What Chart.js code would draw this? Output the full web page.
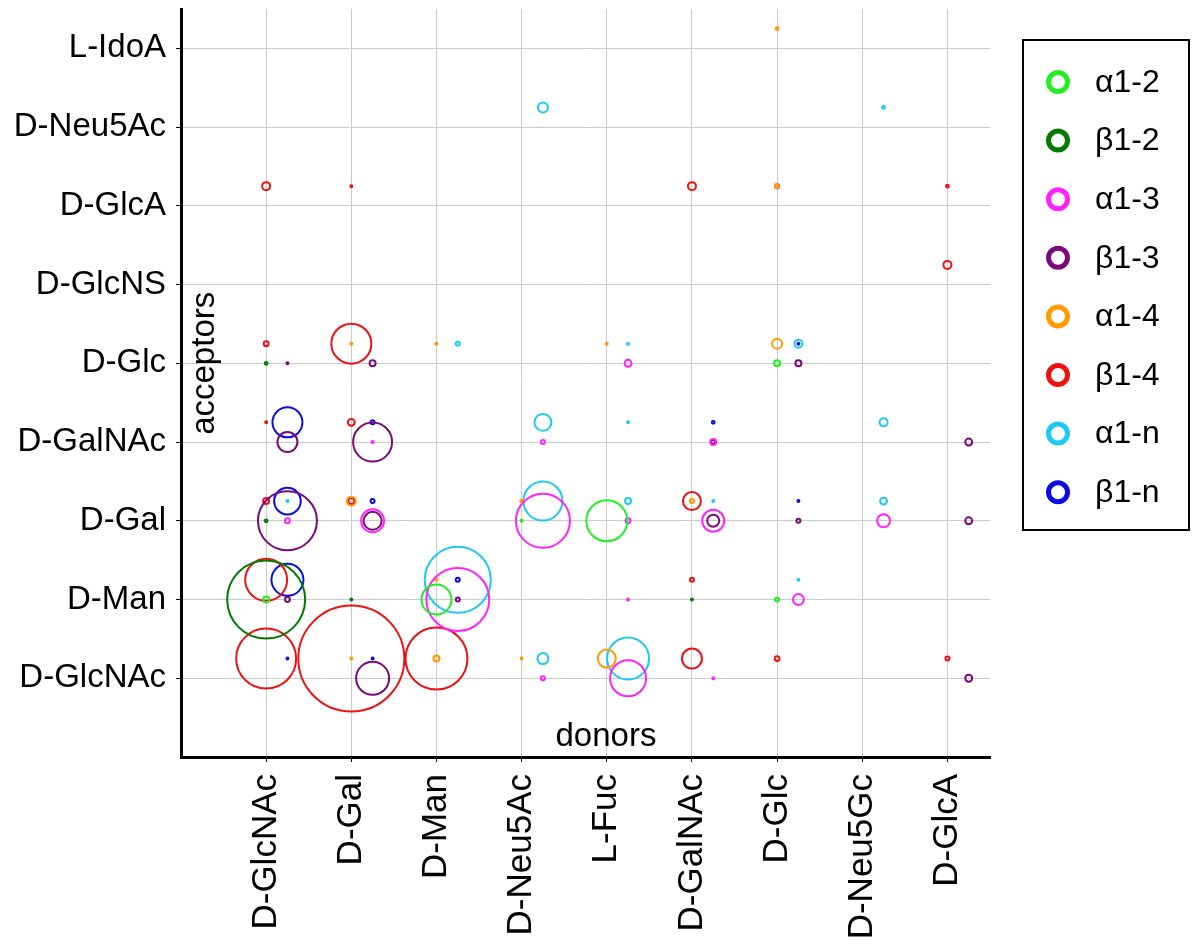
<!DOCTYPE html>
<html>
<head>
<meta charset="utf-8">
<script src="https://cdn.jsdelivr.net/npm/chart.js@4.4.1/dist/chart.umd.min.js"></script>
<style>
  html, body { margin: 0; padding: 0; background: #fff; }
  #wrap { width: 1200px; height: 945px; }
</style>
</head>
<body>
<div id="wrap"><canvas id="linkChart" width="1200" height="945"></canvas></div>
<script>
// Categories
const donors = ['D-GlcNAc', 'D-Gal', 'D-Man', 'D-Neu5Ac', 'L-Fuc', 'D-GalNAc', 'D-Glc', 'D-Neu5Gc', 'D-GlcA'];
const acceptors = ['D-GlcNAc', 'D-Man', 'D-Gal', 'D-GalNAc', 'D-Glc', 'D-GlcNS', 'D-GlcA', 'D-Neu5Ac', 'L-IdoA'];
const linkages = ['α1-2', 'β1-2', 'α1-3', 'β1-3', 'α1-4', 'β1-4', 'α1-n', 'β1-n'];

// Linkage counts: [donor, acceptor, count]
const alpha12 = [
  ['D-Man', 'D-Man', 225], ['L-Fuc', 'D-Gal', 420], ['D-GlcNAc', 'D-Man', 9],
  ['D-Neu5Ac', 'D-Gal', 1], ['D-Glc', 'D-Glc', 9], ['D-Glc', 'D-Man', 4]
];
const beta12 = [
  ['D-GlcNAc', 'D-Man', 1520], ['D-GlcNAc', 'D-Glc', 2], ['D-GlcNAc', 'D-Gal', 2],
  ['D-Gal', 'D-Man', 1], ['D-GalNAc', 'D-Man', 1]
];
const alpha13 = [
  ['D-GlcNAc', 'D-Gal', 6], ['D-Gal', 'D-GalNAc', 1], ['D-Gal', 'D-Gal', 132],
  ['D-Man', 'D-Man', 990], ['D-Neu5Ac', 'D-GalNAc', 4], ['D-Neu5Ac', 'D-Gal', 730],
  ['D-Neu5Ac', 'D-GlcNAc', 4], ['L-Fuc', 'D-Glc', 12], ['L-Fuc', 'D-Gal', 6],
  ['L-Fuc', 'D-Man', 1], ['L-Fuc', 'D-GlcNAc', 324], ['D-GalNAc', 'D-GalNAc', 9],
  ['D-GalNAc', 'D-Gal', 121], ['D-GalNAc', 'D-GlcNAc', 1], ['D-Glc', 'D-Man', 30],
  ['D-Neu5Gc', 'D-Gal', 42]
];
const beta13 = [
  ['D-GlcNAc', 'D-Glc', 1], ['D-GlcNAc', 'D-GalNAc', 100], ['D-GlcNAc', 'D-Gal', 870],
  ['D-GlcNAc', 'D-Man', 6], ['D-Gal', 'D-Glc', 9], ['D-Gal', 'D-GalNAc', 380],
  ['D-Gal', 'D-Gal', 81], ['D-Gal', 'D-GlcNAc', 272], ['D-Man', 'D-Man', 4],
  ['D-GalNAc', 'D-GalNAc', 4], ['D-GalNAc', 'D-Gal', 36], ['D-Glc', 'D-Glc', 9],
  ['D-Glc', 'D-Gal', 4], ['D-GlcA', 'D-GalNAc', 12], ['D-GlcA', 'D-Gal', 12],
  ['D-GlcA', 'D-GlcNAc', 12]
];
const alpha14 = [
  ['D-Gal', 'D-Glc', 1], ['D-Gal', 'D-Gal', 20], ['D-Gal', 'D-GlcNAc', 1],
  ['D-Man', 'D-Glc', 1], ['D-Man', 'D-Man', 1], ['D-Man', 'D-GlcNAc', 9],
  ['D-Neu5Ac', 'D-Gal', 2], ['D-Neu5Ac', 'D-GlcNAc', 1], ['L-Fuc', 'D-Glc', 1],
  ['L-Fuc', 'D-GlcNAc', 81], ['D-GalNAc', 'D-Gal', 4], ['D-Glc', 'L-IdoA', 2],
  ['D-Glc', 'D-GlcA', 4], ['D-Glc', 'D-Glc', 25]
];
const beta14 = [
  ['D-GlcNAc', 'D-GlcA', 16], ['D-GlcNAc', 'D-Glc', 6], ['D-GlcNAc', 'D-GalNAc', 1],
  ['D-GlcNAc', 'D-Gal', 9], ['D-GlcNAc', 'D-Man', 440], ['D-GlcNAc', 'D-GlcNAc', 900],
  ['D-Gal', 'D-GlcA', 1], ['D-Gal', 'D-Glc', 400], ['D-Gal', 'D-GalNAc', 12],
  ['D-Gal', 'D-Gal', 9], ['D-Gal', 'D-GlcNAc', 2810], ['D-Man', 'D-GlcNAc', 960],
  ['D-GalNAc', 'D-GlcA', 16], ['D-GalNAc', 'D-Gal', 81], ['D-GalNAc', 'D-Man', 4],
  ['D-GalNAc', 'D-GlcNAc', 100], ['D-Glc', 'D-GlcA', 4], ['D-Glc', 'D-GlcNAc', 6],
  ['D-GlcA', 'D-GlcA', 2], ['D-GlcA', 'D-GlcNS', 16], ['D-GlcA', 'D-GlcNAc', 4]
];
const alpha1n = [
  ['D-GlcNAc', 'D-Gal', 1], ['D-Man', 'D-Glc', 4], ['D-Man', 'D-Man', 1090],
  ['D-Neu5Ac', 'D-Neu5Ac', 25], ['D-Neu5Ac', 'D-GalNAc', 72], ['D-Neu5Ac', 'D-Gal', 380],
  ['D-Neu5Ac', 'D-GlcNAc', 30], ['L-Fuc', 'D-Glc', 1], ['L-Fuc', 'D-GalNAc', 1],
  ['L-Fuc', 'D-Gal', 9], ['L-Fuc', 'D-GlcNAc', 440], ['D-GalNAc', 'D-Gal', 1],
  ['D-Glc', 'D-Glc', 16], ['D-Glc', 'D-Man', 1], ['D-Neu5Gc', 'D-Neu5Ac', 2],
  ['D-Neu5Gc', 'D-GalNAc', 16], ['D-Neu5Gc', 'D-Gal', 12]
];
const beta1n = [
  ['D-GlcNAc', 'D-GalNAc', 225], ['D-GlcNAc', 'D-Gal', 177], ['D-GlcNAc', 'D-Man', 256],
  ['D-GlcNAc', 'D-GlcNAc', 1], ['D-Gal', 'D-GalNAc', 4], ['D-Gal', 'D-Gal', 4],
  ['D-Gal', 'D-GlcNAc', 1], ['D-Man', 'D-Man', 4], ['D-GalNAc', 'D-GalNAc', 2],
  ['D-Glc', 'D-Glc', 1], ['D-Glc', 'D-Gal', 1]
];

const series = [alpha12, beta12, alpha13, beta13, alpha14, beta14, alpha1n, beta1n];
const colors = ['#22ee22', '#007a00', '#ff22ff', '#7a0a7a', '#ff9a00', '#ee1111', '#1ec8f5', '#0a0ae6'];

// Each linkage position is shifted inside its cell so they don't sit on top of each other
function cellOffset(label) {
  const pos = label.slice(3);
  if (pos === '3') return [0.25, 0];
  if (pos === '4') return [0, 0.25];
  if (pos === 'n') return [0.25, 0.25];
  return [0, 0];
}

const FONT = '"Liberation Sans", Arial, sans-serif';

const datasets = linkages.map((label, k) => {
  const [dx, dy] = cellOffset(label);
  return {
    label: label,
    data: series[k].map(([d, a, n]) => ({
      x: donors.indexOf(d) + dx,
      y: acceptors.indexOf(a) + dy,
      r: Math.sqrt(n)
    })),
    borderColor: colors[k],
    backgroundColor: 'rgba(0,0,0,0)',
    borderWidth: 2
  };
});

// Axis titles inside the plot + boxed legend on the right
const extras = {
  id: 'extras',
  afterDraw(chart) {
    const {ctx, chartArea, scales} = chart;
    ctx.save();
    ctx.fillStyle = '#000';
    ctx.font = '33px ' + FONT;
    ctx.textAlign = 'center';
    ctx.textBaseline = 'middle';
    ctx.fillText('donors', scales.x.getPixelForValue(3.99), scales.y.getPixelForValue(-0.75));

    ctx.save();
    ctx.translate(chartArea.left + 24, scales.y.getPixelForValue(4));
    ctx.rotate(-Math.PI / 2);
    ctx.fillText('acceptors', 0, 0);
    ctx.restore();

    // legend
    const boxL = chartArea.right + 33, boxT = 40, boxW = 166, boxH = 490;
    ctx.lineWidth = 2;
    ctx.strokeStyle = '#000';
    ctx.strokeRect(boxL, boxT, boxW, boxH);
    ctx.textAlign = 'left';
    ctx.font = '32px ' + FONT;
    chart.data.datasets.forEach((ds, k) => {
      const y = boxT + 42 + k * 58.6;
      ctx.beginPath();
      ctx.lineWidth = 5;
      ctx.strokeStyle = ds.borderColor;
      ctx.arc(boxL + 35, y, 9.5, 0, Math.PI * 2);
      ctx.stroke();
      ctx.fillStyle = '#000';
      ctx.fillText(ds.label, boxL + 72, y + 1);
    });
    ctx.restore();
  }
};

new Chart(document.getElementById('linkChart'), {
  type: 'bubble',
  data: { datasets: datasets },
  options: {
    responsive: false,
    devicePixelRatio: 1,
    animation: false,
    layout: { autoPadding: false, padding: { top: 9, right: 210, bottom: 0, left: 0 } },
    plugins: {
      legend: { display: false },
      tooltip: { enabled: false }
    },
    scales: {
      x: {
        type: 'linear',
        min: -1,
        max: 8.5,
        afterBuildTicks: (s) => { s.ticks = donors.map((_, i) => ({ value: i })); },
        afterFit: (s) => { s.height = 188; s.paddingLeft = 0; s.paddingRight = 0; },
        ticks: {
          callback: (v) => donors[v],
          autoSkip: false,
          minRotation: 90,
          maxRotation: 90,
          padding: 12,
          color: '#000',
          font: { family: FONT, size: 35 }
        },
        grid: { color: '#cccccc', lineWidth: 1, tickColor: '#000', tickLength: 5 },
        border: { color: '#000', width: 3 }
      },
      y: {
        type: 'linear',
        min: -1,
        max: 8.5,
        afterBuildTicks: (s) => { s.ticks = acceptors.map((_, i) => ({ value: i })); },
        afterFit: (s) => { s.width = 181; s.paddingTop = 0; s.paddingBottom = 0; },
        ticks: {
          callback: (v) => acceptors[v],
          padding: 10,
          color: '#000',
          font: { family: FONT, size: 33 }
        },
        grid: { color: '#cccccc', lineWidth: 1, tickColor: '#000', tickLength: 5 },
        border: { color: '#000', width: 3 }
      }
    }
  },
  plugins: [extras]
});
</script>
</body>
</html>
